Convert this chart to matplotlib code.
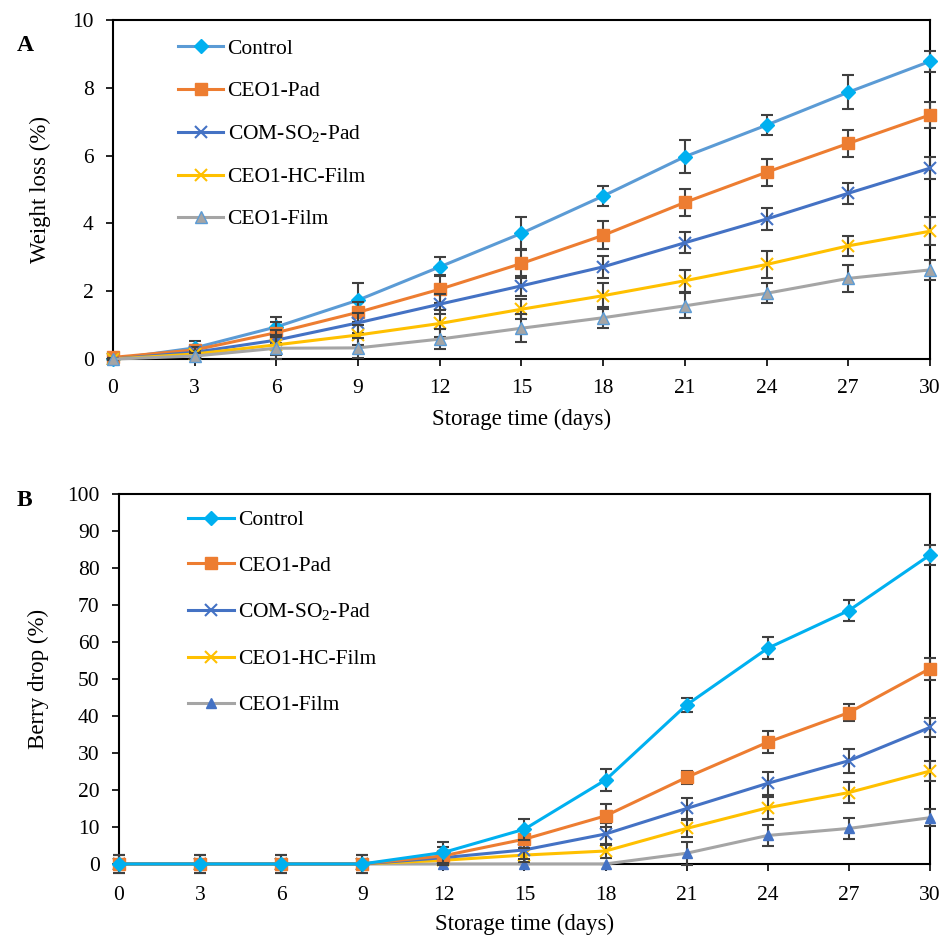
import matplotlib
matplotlib.use('Agg')
import matplotlib.pyplot as plt

plt.rcParams['font.family'] = ['Liberation Serif', 'DejaVu Serif']
plt.rcParams['mathtext.fontset'] = 'custom'
plt.rcParams['mathtext.rm'] = 'Liberation Serif'

days = [0, 3, 6, 9, 12, 15, 18, 21, 24, 27, 30]
labels = ['Control', 'CEO1-Pad', r'COM-SO$_\mathregular{2}$-Pad', 'CEO1-HC-Film', 'CEO1-Film']

# panel A: weight loss (%)
wl_control = [0.0, 0.33, 0.95, 1.74, 2.72, 3.71, 4.81, 5.97, 6.90, 7.87, 8.78]
wl_pad = [0.05, 0.27, 0.78, 1.38, 2.06, 2.82, 3.65, 4.62, 5.51, 6.36, 7.20]
wl_so2 = [0.0, 0.20, 0.56, 1.07, 1.62, 2.16, 2.72, 3.43, 4.13, 4.89, 5.63]
wl_hc = [0.0, 0.15, 0.42, 0.71, 1.05, 1.47, 1.87, 2.31, 2.79, 3.34, 3.77]
wl_film = [0.0, 0.09, 0.32, 0.33, 0.59, 0.91, 1.22, 1.57, 1.94, 2.38, 2.63]

wl_control_err = [0.05, 0.2, 0.3, 0.49, 0.28, 0.49, 0.3, 0.48, 0.3, 0.5, 0.31]
wl_pad_err = [0.05, 0.15, 0.3, 0.3, 0.42, 0.42, 0.41, 0.4, 0.4, 0.4, 0.39]
wl_so2_err = [0.03, 0.15, 0.3, 0.3, 0.3, 0.3, 0.32, 0.31, 0.32, 0.31, 0.32]
wl_hc_err = [0.03, 0.1, 0.3, 0.3, 0.4, 0.3, 0.38, 0.33, 0.4, 0.3, 0.41]
wl_film_err = [0.03, 0.1, 0.32, 0.3, 0.3, 0.42, 0.31, 0.37, 0.3, 0.4, 0.3]

# panel B: berry drop (%)
bd_control = [0, 0, 0, 0, 3.1, 9.4, 22.7, 43.0, 58.3, 68.5, 83.5]
bd_pad = [0, 0, 0, 0, 2.2, 6.7, 13.0, 23.4, 32.9, 40.9, 52.8]
bd_so2 = [0, 0, 0, 0, 1.7, 3.8, 8.1, 15.0, 21.8, 27.9, 36.9]
bd_hc = [0, 0, 0, 0, 1.0, 2.4, 3.5, 9.6, 15.2, 19.3, 25.1]
bd_film = [0, 0, 0, 0, 0, 0, 0, 2.9, 7.7, 9.6, 12.5]

bd_control_err = [2.5, 2.5, 2.5, 2.5, 2.8, 2.8, 2.9, 1.8, 3.0, 2.9, 2.7]
bd_pad_err = [2.5, 2.5, 2.5, 2.5, 2.5, 2.5, 3.1, 1.7, 3.0, 2.3, 3.0]
bd_so2_err = [0, 0, 0, 0, 1.5, 2.5, 2.9, 2.9, 3.1, 3.2, 2.5]
bd_hc_err = [0, 0, 0, 0, 1.0, 2.0, 2.0, 2.3, 3.0, 2.8, 2.8]
bd_film_err = [0, 0, 0, 0, 0, 0, 0, 3.1, 2.8, 2.9, 2.3]

err_color = '#404040'

fig = plt.figure(figsize=(9.46, 9.40), dpi=100)
axA = fig.add_axes([0.1195, 0.618, 0.8635, 0.3607])
axB = fig.add_axes([0.1258, 0.0809, 0.8572, 0.3936])

styleA = [
    dict(color='#5B9BD5', marker='D', mfc='#00B0F0', mec='#00B0F0', ms=7),
    dict(color='#ED7D31', marker='s', mfc='#ED7D31', mec='#ED7D31', ms=8),
    dict(color='#4472C4', marker='x', mfc='#4472C4', mec='#4472C4', ms=9, mew=1.5),
    dict(color='#FFC000', marker='x', mfc='#FFC000', mec='#FFC000', ms=9, mew=1.5),
    dict(color='#A5A5A5', marker='^', mfc='#A5A5A5', mec='#5B9BD5', ms=8.5),
]
styleB = [
    dict(color='#00B0F0', marker='D', mfc='#00B0F0', mec='#00B0F0', ms=7),
    dict(color='#ED7D31', marker='s', mfc='#ED7D31', mec='#ED7D31', ms=8),
    dict(color='#4472C4', marker='x', mfc='#4472C4', mec='#4472C4', ms=9, mew=1.5),
    dict(color='#FFC000', marker='x', mfc='#FFC000', mec='#FFC000', ms=9, mew=1.5),
    dict(color='#A5A5A5', marker='^', mfc='#4472C4', mec='#4472C4', ms=7.5),
]

seriesA = [(wl_control, wl_control_err), (wl_pad, wl_pad_err), (wl_so2, wl_so2_err),
           (wl_hc, wl_hc_err), (wl_film, wl_film_err)]
seriesB = [(bd_control, bd_control_err), (bd_pad, bd_pad_err), (bd_so2, bd_so2_err),
           (bd_hc, bd_hc_err), (bd_film, bd_film_err)]

zA = [3, 4, 5, 6, 7]
zB = [7, 6, 5, 4, 3]

for ax, series, styles, zs in [(axA, seriesA, styleA, zA), (axB, seriesB, styleB, zB)]:
    for (vals, errs), st, lab, z in zip(series, styles, labels, zs):
        eb = ax.errorbar(days, vals, yerr=errs, label=lab, lw=2.2, ecolor=err_color,
                         elinewidth=1.5, capsize=4, capthick=1.5, zorder=z, **st)
        arts = [eb.lines[0]] + list(eb.lines[1]) + list(eb.lines[2])
        for art in arts:
            art.set_clip_on(False)
    ax.set_xlim(0, 30)
    ax.set_xticks(days)
    ax.tick_params(direction='out', length=5, width=1.2, pad=9, labelsize=15.5,
                   top=False, right=False)
    for sp in ax.spines.values():
        sp.set_linewidth(1.5)
        sp.set_color('black')

axA.set_xlabel('Storage time (days)', fontsize=16.5, labelpad=8)
axB.set_xlabel('Storage time (days)', fontsize=16.5, labelpad=6)
axB.tick_params(axis='x', pad=11)

axA.set_ylim(0, 10)
axA.set_yticks([0, 2, 4, 6, 8, 10])
axA.set_ylabel('Weight loss (%)', fontsize=16.5, labelpad=15)
axB.set_ylim(0, 100)
axB.set_yticks(range(0, 101, 10))
axB.set_ylabel('Berry drop (%)', fontsize=16.5, labelpad=13)

hA, lA = axA.get_legend_handles_labels()
hA = [h[0] for h in hA]
axA.legend(hA, lA, loc='upper left', bbox_to_anchor=(0.069, 0.97), frameon=False,
           fontsize=15.5, handlelength=2.1, handletextpad=0.2, labelspacing=1.03,
           borderaxespad=0)
hB, lB = axB.get_legend_handles_labels()
hB = [h[0] for h in hB]
axB.legend(hB, lB, loc='upper left', bbox_to_anchor=(0.075, 0.98), frameon=False,
           fontsize=15.5, handlelength=2.1, handletextpad=0.2, labelspacing=1.2,
           borderaxespad=0)

fig.text(0.018, 0.952, 'A', fontsize=17, fontweight='bold', va='center')
fig.text(0.018, 0.468, 'B', fontsize=17, fontweight='bold', va='center')

fig.savefig('out.png', dpi=100)
